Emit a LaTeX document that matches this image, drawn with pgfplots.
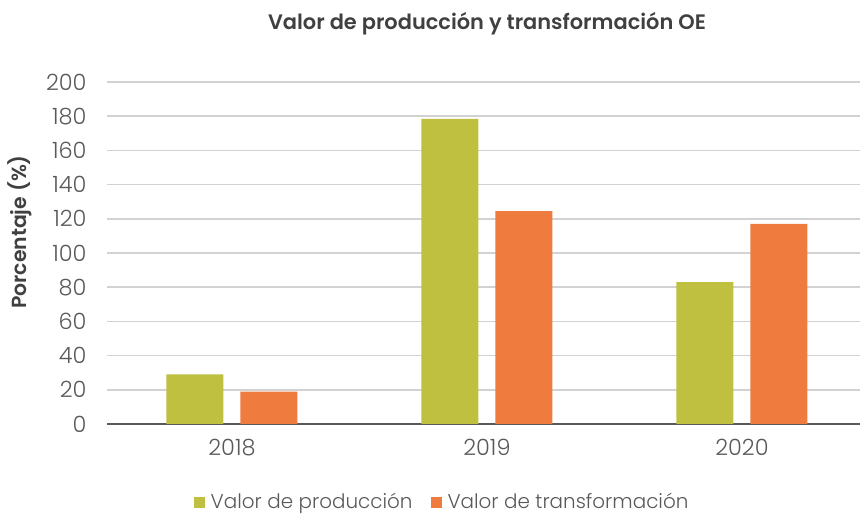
\documentclass[border=0pt]{standalone}
\usepackage{fontspec}
\setmainfont{Poppins}[BoldFont=* SemiBold]
\newfontfamily\lightfont{Poppins Light}
\usepackage{pgfplots}
\pgfplotsset{compat=1.18}
\definecolor{cgreen}{RGB}{191,192,64}
\definecolor{corange}{RGB}{240,123,63}
\definecolor{tgray}{RGB}{89,89,89}
\definecolor{tdark}{RGB}{64,64,64}
\definecolor{grid}{RGB}{210,210,210}
\definecolor{axisl}{RGB}{89,89,89}
\begin{document}
\begin{tikzpicture}[x=1bp,y=1bp]
\path[use as bounding box] (0,0) rectangle (860,515);
\begin{axis}[
  at={(107bp,91bp)}, anchor=south west,
  scale only axis, width=753bp, height=342bp,
  ybar=17bp, bar width=57bp,
  xmin=-0.49, xmax=2.463, ymin=0, ymax=200,
  xtick={0,1,2}, xticklabels={2018,2019,2020},
  ytick={0,20,...,200},
  major tick length=0pt,
  axis x line*=bottom, axis y line*=left,
  x axis line style={draw=axisl, line width=2.5bp, -},
  y axis line style={draw=none},
  ymajorgrids, grid style={draw=grid, line width=1.6bp},
  /pgf/number format/assume math mode=true,
  tick label style={font=\lightfont\fontsize{22.5}{25}\selectfont, text=tgray},
  yticklabel style={xshift=-17bp},
  xticklabel style={yshift=-12bp},
  legend style={at={(0.445,-0.19)}, anchor=north, draw=none, legend columns=-1,
    font=\lightfont\fontsize{20}{24}\selectfont, text=tgray,
    /tikz/every odd column/.append style={column sep=4bp},
    /tikz/every even column/.append style={column sep=16bp}},
  legend image code/.code={\fill[#1] (0bp,-6bp) rectangle (11bp,5bp);},
  clip=false,
]
\addplot[fill=cgreen, draw=none] coordinates {(0,29) (1,178.5) (2,83)};
\addplot[fill=corange, draw=none] coordinates {(0,19) (1,124.5) (2,117)};
\legend{Valor de producción, Valor de transformación}
\end{axis}
\node[font=\fontsize{21}{24}\selectfont\bfseries, text=tdark] at (487,491) {Valor de producción y transformación OE};
\node[font=\fontsize{20.5}{24}\selectfont\bfseries, text=tdark, rotate=90] at (20,283) {Porcentaje (\%)};
\end{tikzpicture}
\end{document}
